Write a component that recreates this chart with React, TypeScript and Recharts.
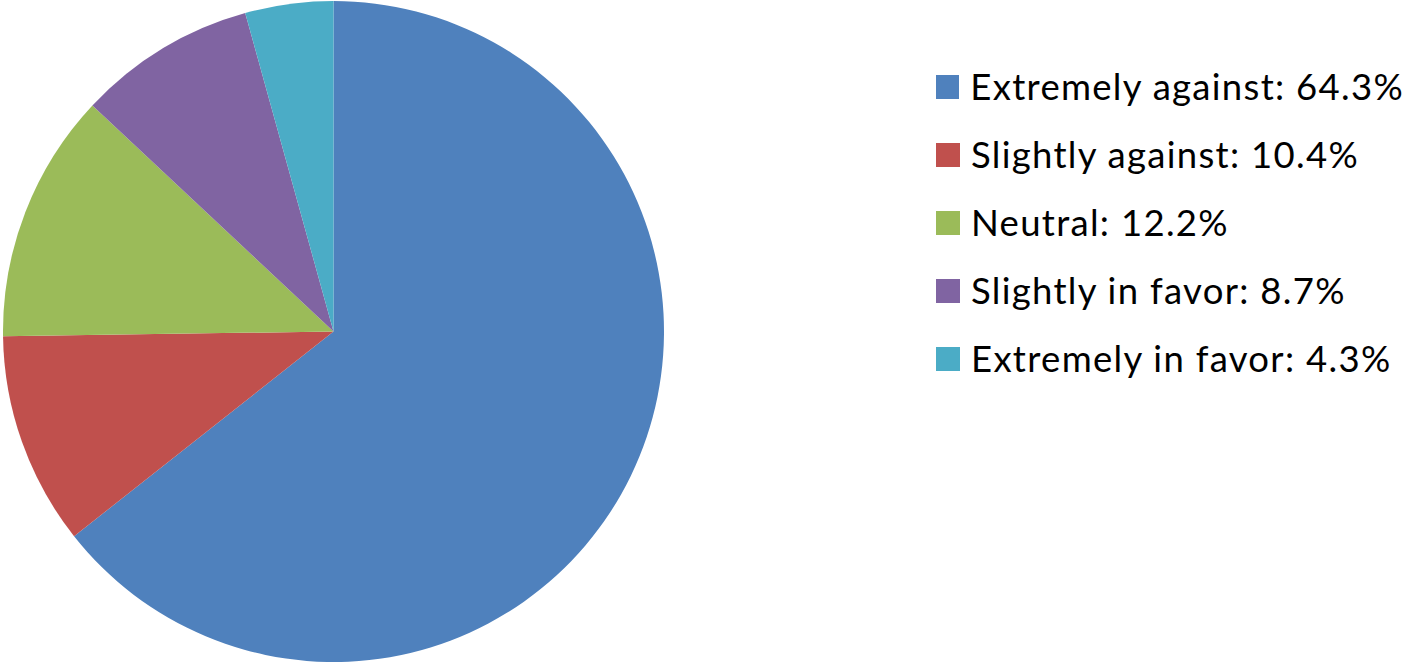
import React from "react";
import { PieChart, Pie, Cell, Legend } from "recharts";

const categories = [
  "Extremely against",
  "Slightly against",
  "Neutral",
  "Slightly in favor",
  "Extremely in favor",
];
const values = [64.3, 10.4, 12.2, 8.7, 4.3];
const colors = ["#4F81BD", "#C0504D", "#9BBB59", "#8064A2", "#4BACC6"];

const data = categories.map((name, i) => ({ name, value: values[i] }));

const renderLegend = () => (
  <div style={{ fontFamily: "Lato, 'Open Sans', sans-serif", color: "#000" }}>
    {data.map((d, i) => (
      <div
        key={d.name}
        style={{ display: "flex", alignItems: "center", height: 68, whiteSpace: "nowrap" }}
      >
        <span
          style={{ display: "inline-block", width: 24, height: 24, background: colors[i], marginRight: 11 }}
        />
        <span style={{ fontSize: 36.5, lineHeight: "40px", letterSpacing: 1.3, marginTop: -3 }}>
          {d.name}: {d.value.toFixed(1)}%
        </span>
      </div>
    ))}
  </div>
);

export default function App() {
  return (
    <div style={{ position: "absolute", top: 0, left: 0, width: 1404, height: 664 }}>
      <PieChart width={1404} height={664} margin={{ top: 0, right: 0, bottom: 0, left: 0 }}>
        <Pie
          data={data}
          dataKey="value"
          nameKey="name"
          cx={333.5}
          cy={331.5}
          outerRadius={330.5}
          startAngle={90}
          endAngle={-270}
          stroke="none"
          isAnimationActive={false}
        >
          {data.map((d, i) => (
            <Cell key={d.name} fill={colors[i]} />
          ))}
        </Pie>
        <Legend
          content={renderLegend}
          wrapperStyle={{ top: 53, left: 936, width: 468 }}
        />
      </PieChart>
    </div>
  );
}
